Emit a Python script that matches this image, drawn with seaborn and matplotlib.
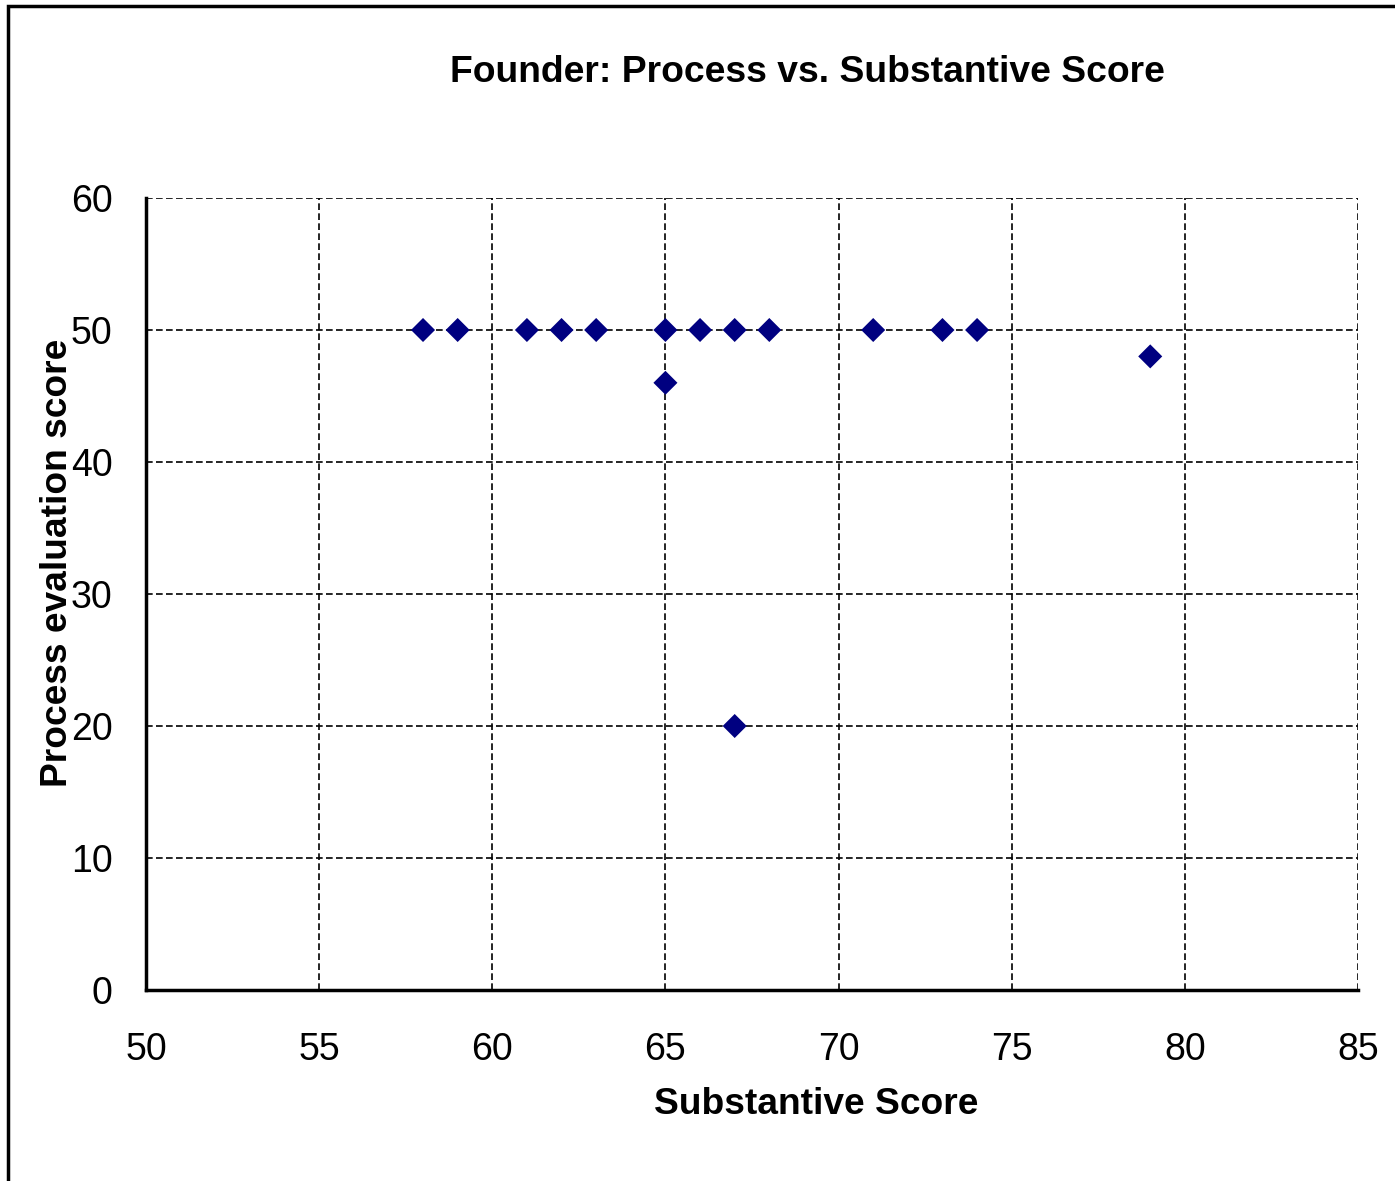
import pandas as pd
import matplotlib.pyplot as plt
import seaborn as sns
from matplotlib.patches import Rectangle

# данные
substantive = [58, 59, 61, 62, 63, 65, 66, 67, 68, 71, 73, 74, 65, 67, 79]
process = [50, 50, 50, 50, 50, 50, 50, 50, 50, 50, 50, 50, 46, 20, 48]
x_ticks = [50, 55, 60, 65, 70, 75, 80, 85]
y_ticks = [0, 10, 20, 30, 40, 50, 60]

df = pd.DataFrame({'Substantive Score': substantive,
                   'Process evaluation score': process})

sns.set_style('white')
plt.rcParams['font.family'] = ['Liberation Sans', 'DejaVu Sans']
plt.rcParams['text.color'] = 'black'
plt.rcParams['axes.labelcolor'] = 'black'
plt.rcParams['xtick.color'] = 'black'
plt.rcParams['ytick.color'] = 'black'

fig = plt.figure(figsize=(13.95, 11.81), dpi=100)
ax = fig.add_axes([146/1395, 1 - 990/1181, (1358 - 146)/1395, (990 - 198)/1181])

sns.scatterplot(data=df, x='Substantive Score', y='Process evaluation score',
                marker='D', color='#000080', edgecolor='none', s=150, ax=ax,
                zorder=3, clip_on=False)

ax.set_xlim(50, 85)
ax.set_ylim(0, 60)
ax.set_xticks(x_ticks)
ax.set_yticks(y_ticks)
ax.grid(True, color='black', linestyle=(0, (4, 2)), linewidth=1.2)
ax.set_axisbelow(True)

for side in ['top', 'right']:
    ax.spines[side].set_visible(False)
for side in ['left', 'bottom']:
    ax.spines[side].set_color('black')
    ax.spines[side].set_linewidth(2.5)

ax.tick_params(axis='both', direction='out', length=10, width=2,
               color='black', labelcolor='black', labelsize=27)
ax.tick_params(axis='x', pad=20)
ax.tick_params(axis='y', pad=14)

ax.set_xlabel('Substantive Score', fontsize=26.7, fontweight='bold')
ax.set_ylabel('Process evaluation score', fontsize=26.7, fontweight='bold')
ax.xaxis.set_label_coords(0.553, -0.144)
ax.yaxis.set_label_coords(-0.073, 0.539)
ax.yaxis.label.set_va('center')
ax.xaxis.label.set_va('center')

fig.text(807/1395, 1 - 73/1181, 'Founder: Process vs. Substantive Score',
         ha='center', va='center', fontsize=26.8, fontweight='bold')

# рамка вокруг диаграммы
fig.patches.append(Rectangle((8/1395, -0.05), 1.1, 1 - 6/1181 + 0.05,
                             transform=fig.transFigure, fill=False,
                             edgecolor='black', linewidth=2.5))

fig.savefig('out.png', dpi=100)
